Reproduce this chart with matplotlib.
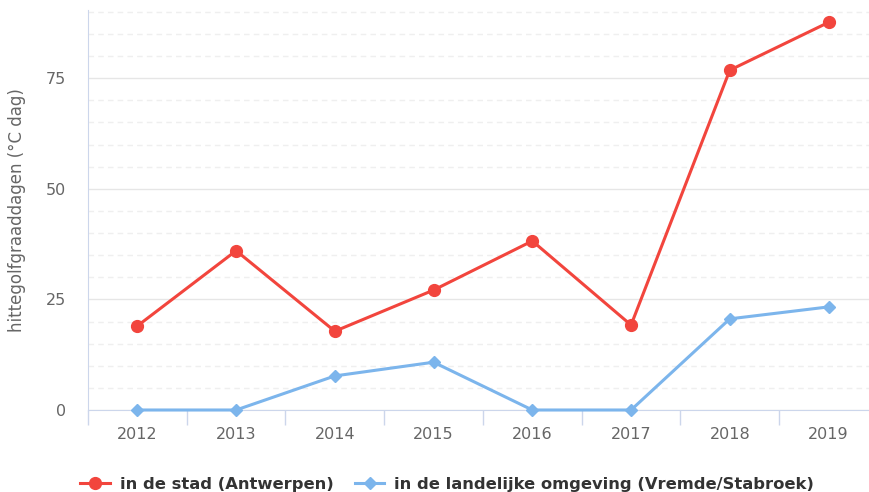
import matplotlib
matplotlib.use("Agg")
from matplotlib import pyplot as plt
from matplotlib.ticker import MultipleLocator, FixedLocator

years = ["2012", "2013", "2014", "2015", "2016", "2017", "2018", "2019"]
stad = [19.0, 36.0, 17.8, 27.1, 38.2, 19.2, 76.8, 87.6]
landelijk = [0, 0, 7.7, 10.8, 0, 0, 20.6, 23.3]
label_stad = "in de stad (Antwerpen)"
label_land = "in de landelijke omgeving (Vremde/Stabroek)"

red = "#f2453d"
blue = "#7cb5ec"
axis_col = "#ccd6eb"

fig = plt.figure(figsize=(8.7, 4.92), dpi=100)
ax = fig.add_axes([88 / 870, 1 - 410 / 492, 1 - 88 / 870, 400 / 492])

x = list(range(len(years)))
ax.plot(x, stad, color=red, lw=2.2, marker="o", markersize=8.5, label=label_stad,
        zorder=4, clip_on=False)
ax.plot(x, landelijk, color=blue, lw=2.2, marker="D", markersize=6.5, label=label_land,
        zorder=4, clip_on=False)

ax.set_xlim(-0.5, 7.42)
ax.set_ylim(0, 90.4)

ax.yaxis.set_major_locator(MultipleLocator(25))
ax.yaxis.set_minor_locator(MultipleLocator(5))
ax.grid(which="major", axis="y", color="#e6e6e6", lw=1.0, zorder=0)
ax.grid(which="minor", axis="y", color="#efefef", lw=1.0, ls=(0, (4, 3)), zorder=0)

ax.set_xticks(x)
ax.set_xticklabels(years)
ax.xaxis.set_minor_locator(FixedLocator([i + 0.5 for i in range(len(years) - 1)] + [-0.5]))
ax.tick_params(axis="x", which="major", length=0, pad=12, labelsize=11.5, labelcolor="#666666")
ax.tick_params(axis="x", which="minor", length=11, width=1, color=axis_col)
ax.tick_params(axis="y", which="both", length=0, pad=16, labelsize=11.5, labelcolor="#666666")

for s in ["top", "right"]:
    ax.spines[s].set_visible(False)
ax.spines["left"].set_color(axis_col)
ax.spines["bottom"].set_color(axis_col)
ax.spines["bottom"].set_zorder(3)

ax.set_ylabel("hittegolfgraaddagen (°C dag)", fontsize=12, color="#666666", labelpad=14)

fig.legend(loc="lower center", bbox_to_anchor=(0.514, -0.03), ncol=2, frameon=False,
           prop={"weight": "bold", "size": 11.8}, labelcolor="#333333",
           handlelength=1.8, columnspacing=1.3, handletextpad=0.6)

fig.savefig("out.png", dpi=100)
